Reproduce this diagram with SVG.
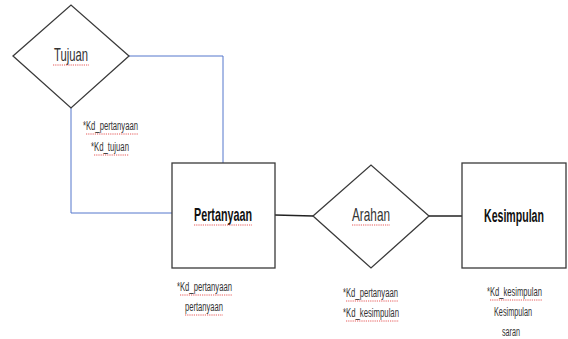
<svg xmlns="http://www.w3.org/2000/svg" width="568" height="339" viewBox="0 0 568 339">
<style>
.shape{fill:#fff;stroke:#3a3a3a;stroke-width:1.3}
.blue{fill:none;stroke:#5577cc;stroke-width:1}
.dark{fill:none;stroke:#222;stroke-width:1.3}
text{font-family:"Liberation Sans",Arial,sans-serif;fill:#111;text-anchor:middle}
.lbl{font-size:19px;fill:#333}
.bold{font-size:19px;font-weight:bold}
.attr{font-size:12.5px;fill:#333}
.sp{fill:none;stroke:#e03030;stroke-width:0.8;stroke-dasharray:1.2 1}
</style>
<rect width="568" height="339" fill="#fff"/>
<g id="connectors">
<polyline class="blue" points="129,56 223,56 223,163"/>
<polyline class="blue" points="71,108 71,213 172,213"/>
<line class="dark" x1="275" y1="215" x2="313" y2="216"/>
<line class="dark" x1="429" y1="216" x2="463" y2="216"/>
</g>
<g id="tujuan">
<polygon class="shape" points="13,56 71,5 129,56 71,108"/>
<text class="lbl" x="71" y="61" textLength="34" lengthAdjust="spacingAndGlyphs">Tujuan</text>
<line class="sp" x1="53" y1="65" x2="89" y2="65"/>
</g>
<g id="pertanyaan">
<rect class="shape" x="172" y="163" width="103" height="105"/>
<text class="bold" x="223" y="221" textLength="58" lengthAdjust="spacingAndGlyphs">Pertanyaan</text>
<line class="sp" x1="194" y1="225" x2="252" y2="225"/>
</g>
<g id="arahan">
<polygon class="shape" points="313,216 371,165 429,216 371,268"/>
<text class="lbl" x="371" y="221" textLength="38" lengthAdjust="spacingAndGlyphs">Arahan</text>
<line class="sp" x1="352" y1="225" x2="390" y2="225"/>
</g>
<g id="kesimpulan">
<rect class="shape" x="462" y="163" width="104" height="105"/>
<text class="bold" transform="translate(514,222) scale(0.557,1)" x="0" y="0">Kesimpulan</text>
</g>
<g id="attributes">
<text class="attr" x="110.5" y="130" textLength="55" lengthAdjust="spacingAndGlyphs">*Kd_pertanyaan</text>
<line class="sp" x1="86" y1="134" x2="138" y2="134"/>
<text class="attr" x="110" y="151" textLength="38" lengthAdjust="spacingAndGlyphs">*Kd_tujuan</text>
<line class="sp" x1="94" y1="155" x2="129" y2="155"/>
<text class="attr" x="204.5" y="291" textLength="55" lengthAdjust="spacingAndGlyphs">*Kd_pertanyaan</text>
<line class="sp" x1="180" y1="295" x2="232" y2="295"/>
<text class="attr" x="204" y="311" textLength="38" lengthAdjust="spacingAndGlyphs">pertanyaan</text>
<line class="sp" x1="185" y1="315" x2="223" y2="315"/>
<text class="attr" x="370.5" y="297" textLength="55" lengthAdjust="spacingAndGlyphs">*Kd_pertanyaan</text>
<line class="sp" x1="346" y1="301" x2="398" y2="301"/>
<text class="attr" x="371" y="317" textLength="56" lengthAdjust="spacingAndGlyphs">*Kd_kesimpulan</text>
<line class="sp" x1="346" y1="321" x2="399" y2="321"/>
<text class="attr" transform="translate(514.5,296) scale(0.609,1)" x="0" y="0">*Kd_kesimpulan</text>
<line class="sp" x1="490" y1="300" x2="542" y2="300"/>
<text class="attr" x="513" y="316" textLength="38" lengthAdjust="spacingAndGlyphs">Kesimpulan</text>
<text class="attr" x="511" y="336" textLength="18" lengthAdjust="spacingAndGlyphs">saran</text>
</g>
</svg>
